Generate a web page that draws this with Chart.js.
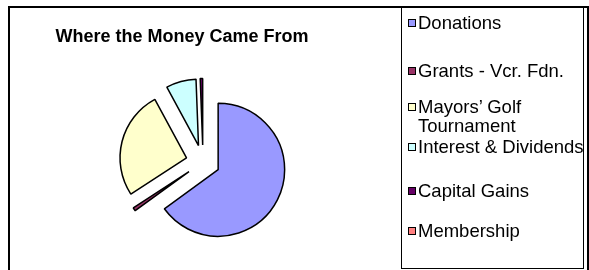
<!DOCTYPE html>
<html>
<head>
<meta charset="utf-8">
<script src="https://cdn.jsdelivr.net/npm/chart.js@4.4.1/dist/chart.umd.min.js"></script>
<style>
  html, body { margin: 0; padding: 0; background: #fff; }
  body { width: 589px; height: 270px; position: relative; overflow: hidden; font-family: "Liberation Sans", Arial, sans-serif; }
  #frame { position: absolute; left: 8px; top: 6px; width: 581px; height: 280px; border-left: 2px solid #000; border-top: 2px solid #000; border-right: 2px solid #000; box-sizing: border-box; }
  #title { position: absolute; left: 12px; width: 340px; top: 26px; text-align: center; font-weight: bold; font-size: 18px; line-height: 20px; color: #000; white-space: nowrap; }
  #legend { position: absolute; left: 401px; top: 7px; width: 183px; height: 262px; border: 1px solid #000; box-sizing: border-box; background: transparent; }
  .item { position: absolute; left: 0; width: 190px; }
  .sw { position: absolute; left: 6px; width: 8px; height: 8px; border: 1px solid #000; box-sizing: border-box; }
  .tx { position: absolute; left: 16px; width: 172px; font-size: 18.5px; line-height: 19px; color: #000; }
  canvas { position: absolute; left: 0; top: 0; }
</style>
</head>
<body>
<div id="frame"></div>
<canvas id="c" width="589" height="270"></canvas>
<div id="title">Where the Money Came From</div>
<div id="legend"></div>
<script>
const categories = ['Donations', 'Grants - Vcr. Fdn.', 'Mayors\u2019 Golf Tournament', 'Interest & Dividends', 'Capital Gains', 'Membership'];
const values = [65.0, 0.8, 26.3, 7.3, 0.6, 0];
const colors = ['#9999FF', '#993366', '#FFFFCC', '#CCFFFF', '#660066', '#FF8080'];
const legendRowCenters = [22, 70, 106, 146, 190, 230];

const EXPLODE = 17;
const explodePlugin = {
  id: 'explode',
  beforeDatasetDraw(chart, args) {
    args.meta.data.forEach(arc => {
      if (arc._exploded) return;
      const orig = arc.draw;
      arc.draw = function (ctx, area) {
        const mid = (this.startAngle + this.endAngle) / 2;
        ctx.save();
        ctx.translate(Math.cos(mid) * EXPLODE, Math.sin(mid) * EXPLODE);
        orig.call(this, ctx, area);
        ctx.restore();
      };
      arc._exploded = true;
    });
  }
};

new Chart(document.getElementById('c'), {
  type: 'pie',
  data: {
    labels: categories,
    datasets: [{
      data: values,
      backgroundColor: colors,
      borderColor: '#000',
      borderWidth: 1.5,
      radius: 66.5,
      clip: false
    }]
  },
  options: {
    responsive: false,
    maintainAspectRatio: false,
    animation: false,
    events: [],
    layout: { padding: { left: 20, right: 203, top: 60, bottom: 6 } },
    plugins: { legend: { display: false }, title: { display: false }, tooltip: { enabled: false } }
  },
  plugins: [explodePlugin]
});

const legend = document.getElementById('legend');
categories.forEach((name, i) => {
  const cy = legendRowCenters[i] - 8;
  const item = document.createElement('div');
  item.className = 'item';
  item.style.top = '0px';
  const sw = document.createElement('div');
  sw.className = 'sw';
  sw.style.background = colors[i];
  sw.style.top = (cy + 1 - 4) + 'px';
  const tx = document.createElement('div');
  tx.className = 'tx';
  tx.style.top = (cy - 9) + 'px';
  tx.textContent = name;
  item.appendChild(sw);
  item.appendChild(tx);
  legend.appendChild(item);
});
</script>
</body>
</html>
